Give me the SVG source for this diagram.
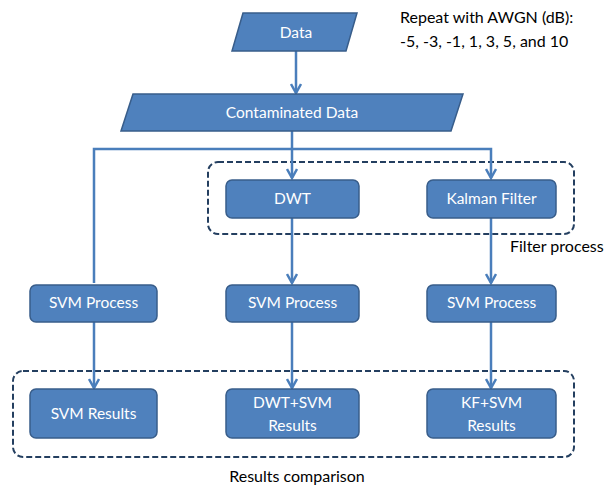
<svg xmlns="http://www.w3.org/2000/svg" width="611" height="490" viewBox="0 0 611 490">
<defs>
<style>
.box{fill:#4F81BD;stroke:#385D8A;stroke-width:1.5}
.t{font-family:Lato,"Liberation Sans",sans-serif;font-size:15.5px;fill:#fff;text-anchor:middle}
.lbl{font-family:Lato,"Liberation Sans",sans-serif;font-size:16px;fill:#000}
.c{fill:none;stroke:#4A7EBB;stroke-width:2.5}
.dash{fill:none;stroke:#243F60;stroke-width:2;stroke-dasharray:6,3}
</style>
<marker id="ah" viewBox="0 0 12 12" refX="10" refY="6" markerWidth="12" markerHeight="12" markerUnits="userSpaceOnUse" orient="auto">
<path d="M1,1 L10,6 L1,11" fill="none" stroke="#4A7EBB" stroke-width="2.5"/>
</marker>
</defs>
<rect x="0" y="0" width="611" height="490" fill="#fff"/>
<rect class="dash" x="208" y="162" width="366" height="72" rx="10"/>
<rect class="dash" x="13" y="371" width="561" height="86" rx="10"/>
<g id="connectors">
<line class="c" x1="296" y1="51" x2="296" y2="93" marker-end="url(#ah)"/>
<line class="c" x1="292" y1="131" x2="292" y2="149"/>
<polyline class="c" points="94,283 94,149 491,149 491,178" marker-end="url(#ah)"/>
<line class="c" x1="292" y1="149" x2="292" y2="178" marker-end="url(#ah)"/>
<line class="c" x1="292" y1="218" x2="292" y2="283" marker-end="url(#ah)"/>
<line class="c" x1="491" y1="218" x2="491" y2="283" marker-end="url(#ah)"/>
<line class="c" x1="94" y1="322" x2="94" y2="388" marker-end="url(#ah)"/>
<line class="c" x1="292" y1="322" x2="292" y2="388" marker-end="url(#ah)"/>
<line class="c" x1="491" y1="322" x2="491" y2="388" marker-end="url(#ah)"/>
</g>
<g id="data"><polygon class="box" points="243,13 357,13 346,51 232,51"/><text class="t" x="296" y="38">Data</text></g>
<g id="contaminated"><polygon class="box" points="133,94 463,94 451,131 121,131"/><text class="t" x="292" y="118">Contaminated Data</text></g>
<g id="dwt"><rect class="box" x="226" y="180" width="133" height="38" rx="6"/><text class="t" x="292.5" y="204">DWT</text></g>
<g id="kalman"><rect class="box" x="427" y="180" width="129" height="38" rx="6"/><text class="t" x="491.5" y="204">Kalman Filter</text></g>
<g id="svm1"><rect class="box" x="30" y="285" width="127" height="37" rx="6"/><text class="t" x="93.5" y="308">SVM Process</text></g>
<g id="svm2"><rect class="box" x="226" y="285" width="133" height="37" rx="6"/><text class="t" x="292.5" y="308">SVM Process</text></g>
<g id="svm3"><rect class="box" x="427" y="285" width="129" height="37" rx="6"/><text class="t" x="491.5" y="308">SVM Process</text></g>
<g id="res1"><rect class="box" x="30" y="389" width="127" height="49" rx="6"/><text class="t" x="93.5" y="419">SVM Results</text></g>
<g id="res2"><rect class="box" x="226" y="389" width="133" height="49" rx="6"/><text class="t" x="292.5" y="408">DWT+SVM</text><text class="t" x="292.5" y="431">Results</text></g>
<g id="res3"><rect class="box" x="427" y="389" width="129" height="49" rx="6"/><text class="t" x="491.5" y="408">KF+SVM</text><text class="t" x="491.5" y="431">Results</text></g>
<g id="labels">
<text class="lbl" x="400" y="23">Repeat with AWGN (dB):</text>
<text class="lbl" x="400" y="47">-5, -3, -1, 1, 3, 5, and 10</text>
<text class="lbl" x="510" y="252">Filter process</text>
<text class="lbl" x="297" y="482" text-anchor="middle">Results comparison</text>
</g>
</svg>
